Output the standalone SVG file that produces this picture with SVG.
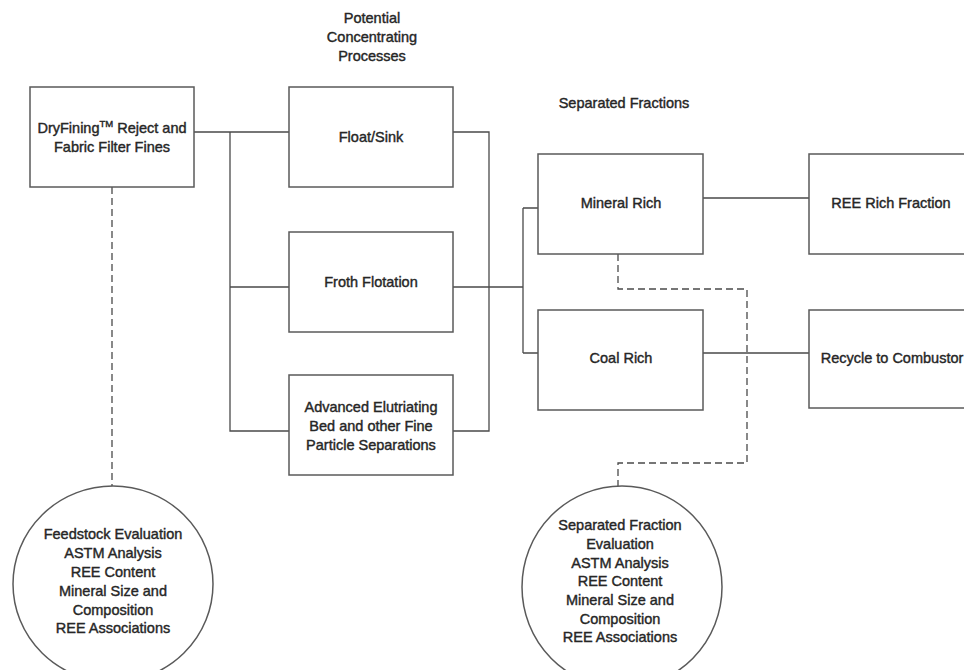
<svg xmlns="http://www.w3.org/2000/svg" width="964" height="670" viewBox="0 0 964 670">
<style>
.box{fill:#fff;stroke:#5a5a5a;stroke-width:1.5}
.t{font-family:"Liberation Sans",Arial,sans-serif;font-size:14.5px;fill:#262626;stroke:#262626;stroke-width:0.4;text-anchor:middle}
.ln{fill:none;stroke:#4a4a4a;stroke-width:1.3}
.dash{fill:none;stroke:#4a4a4a;stroke-width:1.3;stroke-dasharray:7 4}
</style>
<rect width="964" height="670" fill="#fff"/>
<text class="t" x="372" y="23">Potential</text>
<text class="t" x="372" y="42">Concentrating</text>
<text class="t" x="372" y="61">Processes</text>
<text class="t" x="624" y="108" font-size="15">Separated Fractions</text>
<g id="connectors">
<path class="ln" d="M194,132H289M230,132V431H289M230,287H289"/>
<path class="ln" d="M453,132H489V431H453M453,287H523M523,208V353M523,208H538M523,353H538"/>
<path class="ln" d="M703,198H809M703,353H809"/>
<path class="dash" d="M112,187V486"/>
<path class="dash" d="M618,254V289H747V463H618V486"/>
</g>
<g id="dryfining">
<rect class="box" x="30" y="87" width="164" height="100"/>
<text class="t" x="112" y="133">DryFining<tspan font-size="9.5" dy="-6">TM</tspan><tspan dy="6"> Reject and</tspan></text>
<text class="t" x="112" y="152">Fabric Filter Fines</text>
</g>
<g id="floatsink">
<rect class="box" x="289" y="87" width="164" height="100"/>
<text class="t" x="371" y="142">Float/Sink</text>
</g>
<g id="froth">
<rect class="box" x="289" y="232" width="164" height="100"/>
<text class="t" x="371" y="287">Froth Flotation</text>
</g>
<g id="advanced">
<rect class="box" x="289" y="375" width="164" height="100"/>
<text class="t" x="371" y="412">Advanced Elutriating</text>
<text class="t" x="371" y="431">Bed and other Fine</text>
<text class="t" x="371" y="450">Particle Separations</text>
</g>
<g id="mineral">
<rect class="box" x="538" y="154" width="165" height="100"/>
<text class="t" x="621" y="208">Mineral Rich</text>
</g>
<g id="coal">
<rect class="box" x="538" y="310" width="165" height="100"/>
<text class="t" x="621" y="363">Coal Rich</text>
</g>
<g id="reerich">
<rect class="box" x="809" y="154" width="165" height="100"/>
<text class="t" x="891" y="208">REE Rich Fraction</text>
</g>
<g id="recycle">
<rect class="box" x="809" y="310" width="165" height="98"/>
<text class="t" x="892" y="363">Recycle to Combustor</text>
</g>
<g id="feedstock">
<ellipse class="box" cx="113" cy="584" rx="100" ry="98"/>
<text class="t" x="113" y="539">Feedstock Evaluation</text>
<text class="t" x="113" y="558">ASTM Analysis</text>
<text class="t" x="113" y="577">REE Content</text>
<text class="t" x="113" y="596">Mineral Size and</text>
<text class="t" x="113" y="615">Composition</text>
<text class="t" x="113" y="633">REE Associations</text>
</g>
<g id="fraction">
<ellipse class="box" cx="622" cy="587" rx="100" ry="101"/>
<text class="t" x="620" y="530">Separated Fraction</text>
<text class="t" x="620" y="549">Evaluation</text>
<text class="t" x="620" y="568">ASTM Analysis</text>
<text class="t" x="620" y="586">REE Content</text>
<text class="t" x="620" y="605">Mineral Size and</text>
<text class="t" x="620" y="624">Composition</text>
<text class="t" x="620" y="642">REE Associations</text>
</g>
</svg>
